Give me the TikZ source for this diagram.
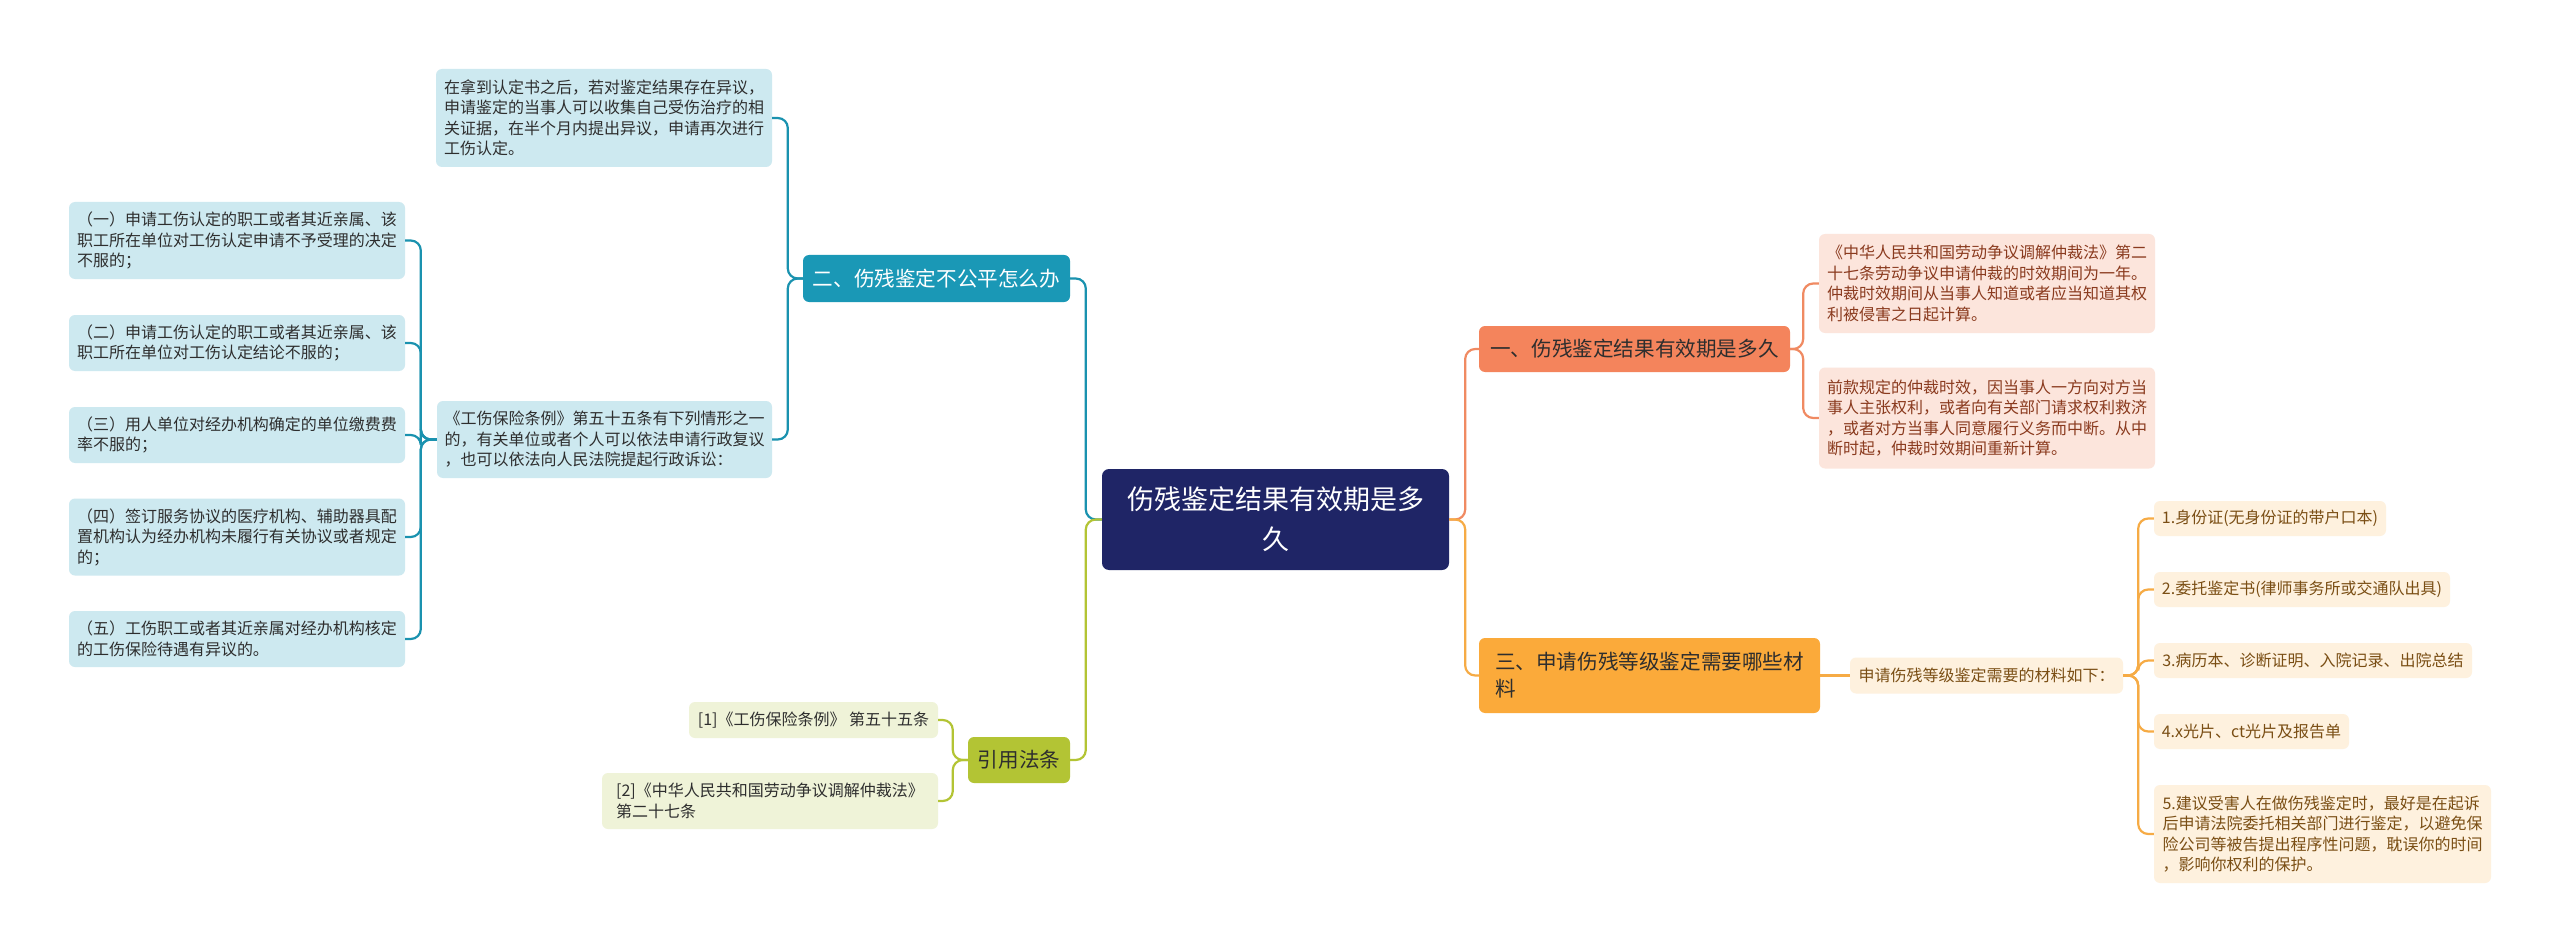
\documentclass[tikz,border=0pt]{standalone}
\usepackage{fontspec}
\setmainfont{Noto Sans CJK SC}
\definecolor{navy}{HTML}{1F2566}
\definecolor{teal1}{HTML}{1A98B6}
\definecolor{tealline}{HTML}{1A92AF}
\definecolor{teallf}{HTML}{CDE9F0}
\definecolor{grn}{HTML}{B3C434}
\definecolor{grnlf}{HTML}{EFF3D8}
\definecolor{salm}{HTML}{F4845C}
\definecolor{salmline}{HTML}{F08A62}
\definecolor{salmlf}{HTML}{FCE5DC}
\definecolor{salmtx}{HTML}{8A3A1E}
\definecolor{orng}{HTML}{FBAA3A}
\definecolor{orngline}{HTML}{F6AB45}
\definecolor{ornglf}{HTML}{FEF1DE}
\definecolor{orngtx}{HTML}{7A4E14}
\definecolor{darktx}{HTML}{2E2E2E}
\begin{document}
\begin{tikzpicture}[x=1pt,y=-1pt,
  base/.style={rounded corners=6pt, inner sep=0pt, align=left},
  leaf/.style={base, font=\fontsize{16}{20.5}\selectfont},
  tleaf/.style={leaf, fill=teallf, text=darktx},
  gleaf/.style={leaf, fill=grnlf, text=darktx},
  sleaf/.style={leaf, fill=salmlf, text=salmtx},
  oleaf/.style={leaf, fill=ornglf, text=orngtx},
  branch/.style={base, font=\fontsize{20.6}{27}\selectfont},
  conn/.style={line width=2.2pt, rounded corners=10pt},
  tline/.style={conn, draw=tealline},
  gline/.style={conn, draw=grn},
  sline/.style={conn, draw=salmline},
  oline/.style={conn, draw=orngline}]
\fill[white] (0,0) rectangle (2560,952);
\useasboundingbox (0,0) rectangle (2560,952);

% root
\node[base, rounded corners=7pt, fill=navy, text=white, align=center,
  font=\fontsize{27}{40}\selectfont, minimum width=347pt, minimum height=101pt]
  (root) at (1275.5,519.5) {伤残鉴定结果有效期是多\\久};

% left teal branch
\node[branch, fill=teal1, text=white, minimum width=267pt, minimum height=47pt]
  (b2) at (936.5,278.5) {二、伤残鉴定不公平怎么办};
\node[tleaf, minimum width=336pt, minimum height=98pt] (tl1) at (604,118)
  {在拿到认定书之后，若对鉴定结果存在异议，\\申请鉴定的当事人可以收集自己受伤治疗的相\\关证据，在半个月内提出异议，申请再次进行\\工伤认定。};
\node[tleaf, minimum width=335pt, minimum height=77pt] (tlaw) at (604.5,439.5)
  {《工伤保险条例》第五十五条有下列情形之一\\的，有关单位或者个人可以依法申请行政复议\\，也可以依法向人民法院提起行政诉讼：};
\node[tleaf, minimum width=336pt, minimum height=77pt] (la) at (237,240.5)
  {（一）申请工伤认定的职工或者其近亲属、该\\职工所在单位对工伤认定申请不予受理的决定\\不服的；};
\node[tleaf, minimum width=336pt, minimum height=56pt] (lb) at (237,343)
  {（二）申请工伤认定的职工或者其近亲属、该\\职工所在单位对工伤认定结论不服的；};
\node[tleaf, minimum width=336pt, minimum height=56pt] (lc) at (237,435)
  {（三）用人单位对经办机构确定的单位缴费费\\率不服的；};
\node[tleaf, minimum width=336pt, minimum height=77pt] (ld) at (237,537)
  {（四）签订服务协议的医疗机构、辅助器具配\\置机构认为经办机构未履行有关协议或者规定\\的；};
\node[tleaf, minimum width=336pt, minimum height=56pt] (le) at (237,639)
  {（五）工伤职工或者其近亲属对经办机构核定\\的工伤保险待遇有异议的。};

% left green branch
\node[branch, fill=grn, text=darktx, minimum width=102pt, minimum height=46pt]
  (cite) at (1019,760) {引用法条};
\node[gleaf, minimum width=249pt, minimum height=36pt] (c1) at (813.5,720)
  {[1]《工伤保险条例》 第五十五条};
\node[gleaf, minimum width=336pt, minimum height=56pt] (c2) at (770,801)
  {[2]《中华人民共和国劳动争议调解仲裁法》\\第二十七条};

% right salmon branch
\node[branch, fill=salm, text=darktx, minimum width=311pt, minimum height=46pt]
  (b1) at (1634.5,349) {一、伤残鉴定结果有效期是多久};
\node[sleaf, minimum width=336pt, minimum height=99pt] (s1) at (1987,283.5)
  {《中华人民共和国劳动争议调解仲裁法》第二\\十七条劳动争议申请仲裁的时效期间为一年。\\仲裁时效期间从当事人知道或者应当知道其权\\利被侵害之日起计算。};
\node[sleaf, minimum width=336pt, minimum height=101pt] (s2) at (1987,418)
  {前款规定的仲裁时效，因当事人一方向对方当\\事人主张权利，或者向有关部门请求权利救济\\，或者对方当事人同意履行义务而中断。从中\\断时起，仲裁时效期间重新计算。};

% right orange branch
\node[branch, fill=orng, text=darktx, minimum width=341pt, minimum height=75pt]
  (b3) at (1649.5,675.5) {三、申请伤残等级鉴定需要哪些材\\料};
\node[oleaf, minimum width=273pt, minimum height=36pt] (o0) at (1986.5,675.5)
  {申请伤残等级鉴定需要的材料如下：};
\node[oleaf, minimum width=232pt, minimum height=35pt] (o1) at (2270,518.5)
  {1.身份证(无身份证的带户口本)};
\node[oleaf, minimum width=296pt, minimum height=35pt] (o2) at (2302,589.5)
  {2.委托鉴定书(律师事务所或交通队出具)};
\node[oleaf, minimum width=318pt, minimum height=35pt] (o3) at (2313,660.5)
  {3.病历本、诊断证明、入院记录、出院总结};
\node[oleaf, minimum width=195pt, minimum height=35pt] (o4) at (2251.5,731.5)
  {4.x光片、ct光片及报告单};
\node[oleaf, minimum width=337pt, minimum height=98pt] (o5) at (2322.5,834)
  {5.建议受害人在做伤残鉴定时，最好是在起诉\\后申请法院委托相关部门进行鉴定，以避免保\\险公司等被告提出程序性问题，耽误你的时间\\，影响你权利的保护。};

% connectors
\draw[tline] (root.west) -- ++(-16,0) |- (b2.east);
\draw[gline] (root.west) -- ++(-16,0) |- (cite.east);
\draw[sline] (root.east) -- ++(16,0) |- (b1.west);
\draw[oline] (root.east) -- ++(16,0) |- (b3.west);

\draw[tline] (b2.west) -- ++(-15,0) |- (tl1.east);
\draw[tline] (b2.west) -- ++(-15,0) |- (tlaw.east);
\foreach \n in {la,lb,lc,ld,le}
  \draw[tline] (tlaw.west) -- ++(-16,0) |- (\n.east);

\draw[gline] (cite.west) -- ++(-15,0) |- (c1.east);
\draw[gline] (cite.west) -- ++(-15,0) |- (c2.east);

\draw[sline] (b1.east) -- ++(13,0) |- (s1.west);
\draw[sline] (b1.east) -- ++(13,0) |- (s2.west);

\draw[oline] (b3.east) -- (o0.west);
\foreach \n in {o1,o2,o3,o4,o5}
  \draw[oline] (o0.east) -- ++(15,0) |- (\n.west);
\end{tikzpicture}
\end{document}
